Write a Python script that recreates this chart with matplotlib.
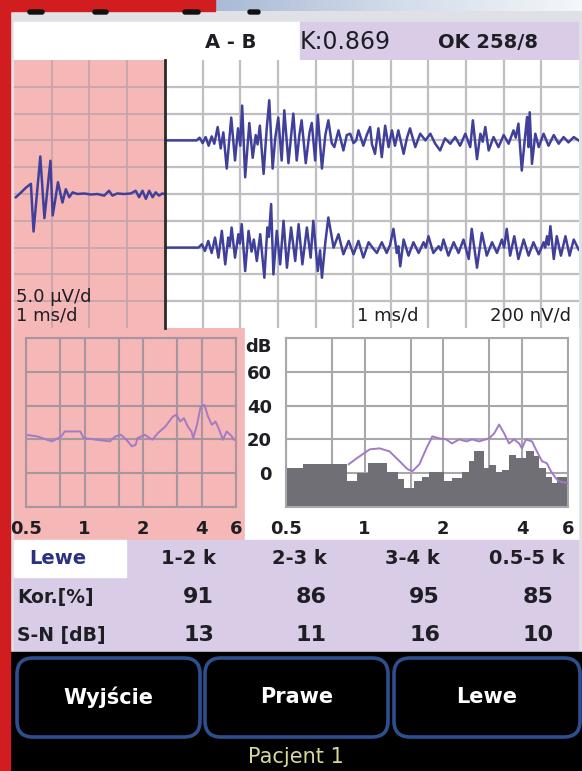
import matplotlib.pyplot as plt
import numpy as np
from matplotlib.patches import Rectangle, FancyBboxPatch
from matplotlib.colors import LinearSegmentedColormap
from matplotlib.ticker import FixedLocator, NullFormatter

W, H = 582, 771

# kolory ekranu
PINK = "#f6b7b7"
LAVENDER = "#d9cce7"
WAVE = "#40409a"
SPEC = "#a27ac6"
NOISE = "#6f6f75"
GRID_W = "#bfbfc3"
GRID_P = "#c6a6ae"
TXT = "#1e1e24"

# naglowek
PAIR = "A - B"
K_VALUE = 0.869
OK_TEXT = "OK 258/8"

# bodziec (czas ms, uV)
STIMULUS = [
    (0.05, -0.6), (0.19, 0.3), (0.32, 1.2), (0.45, 1.9), (0.52, -7.0),
    (0.61, 0.0), (0.70, 7.0), (0.81, -4.5), (0.97, 6.2), (1.03, -4.0),
    (1.10, -1.0), (1.17, 2.2), (1.29, -1.6), (1.38, 0.9), (1.47, -0.6),
    (1.56, 0.3), (1.69, 0.0), (1.87, 0.1), (2.05, -0.1), (2.22, 0.0),
    (2.40, -0.3), (2.53, 0.6), (2.62, -0.3), (2.75, 0.1), (2.93, 0.0),
    (3.11, 0.1), (3.24, 0.6), (3.33, -0.6), (3.42, 0.6), (3.51, -0.9),
    (3.60, 0.6), (3.69, -0.6), (3.77, 0.3), (3.86, -0.3), (3.95, 0.1),
    (4.00, 0.0),
]

# odpowiedz A (czas ms, nV)
TRACE_A = [
    (4.00, 0), (4.84, 0), (4.92, 20), (5.00, -20), (5.08, 25), (5.16, -40),
    (5.24, 30), (5.31, -25), (5.40, 100), (5.48, -60), (5.55, 60), (5.64, -210),
    (5.76, 170), (5.86, -150), (5.94, 90), (6.00, -40), (6.05, 260), (6.13, -275),
    (6.24, 130), (6.33, -130), (6.41, 40), (6.46, -30), (6.52, 110), (6.62, -250),
    (6.70, 80), (6.77, 300), (6.86, -210), (6.93, 20), (7.01, 170), (7.10, -150),
    (7.17, 225), (7.28, -170), (7.36, 60), (7.41, 200), (7.50, -150), (7.57, 40),
    (7.63, 150), (7.74, -170), (7.84, 60), (7.90, 130), (7.99, -150), (8.06, 190),
    (8.17, -210), (8.26, 40), (8.34, 150), (8.43, -20), (8.50, -50), (8.56, 20),
    (8.61, 75), (8.74, -75), (8.83, 40), (8.92, 50), (9.01, -20), (9.08, 0),
    (9.14, 75), (9.27, -40), (9.36, 40), (9.45, 100), (9.50, -30), (9.58, -100),
    (9.67, 90), (9.76, -125), (9.85, 110), (9.94, -50), (10.03, 75), (10.11, -40),
    (10.20, 75), (10.34, -100), (10.43, 20), (10.51, 90), (10.65, -50), (10.78, 50),
    (10.92, 0), (11.05, 50), (11.18, -25), (11.31, -75), (11.44, 15), (11.58, -25),
    (11.71, 25), (11.84, -40), (11.98, 50), (12.11, -50), (12.18, 150), (12.29, -140),
    (12.38, 50), (12.44, -10), (12.51, 100), (12.60, -75), (12.73, 25), (12.86, -50),
    (13.00, 40), (13.13, -25), (13.26, 75), (13.32, 20), (13.39, 125), (13.48, -225),
    (13.55, -20), (13.62, 175), (13.66, -50), (13.69, 210), (13.75, -175), (13.84, 50),
    (13.93, -50), (14.06, 50), (14.19, -40), (14.33, 40), (14.46, -25), (14.59, 25),
    (14.72, -15), (14.86, 25), (14.99, 0),
]

# odpowiedz B (czas ms, nV)
TRACE_B = [
    (4.00, 0), (4.89, 0), (4.98, 25), (5.06, -25), (5.15, 50), (5.24, -40),
    (5.33, 75), (5.42, -75), (5.51, 125), (5.60, -125), (5.68, 75), (5.72, 10),
    (5.77, 150), (5.86, -75), (5.95, 100), (5.99, 30), (6.04, 175), (6.13, -175),
    (6.22, 125), (6.30, -30), (6.36, 60), (6.44, -100), (6.53, 100), (6.64, -225),
    (6.72, 150), (6.76, 80), (6.82, 325), (6.88, -200), (6.97, 125), (7.06, -125),
    (7.15, 200), (7.24, -150), (7.35, 150), (7.46, -100), (7.55, 175), (7.65, -125),
    (7.77, 150), (7.87, -75), (7.94, 200), (8.06, -175), (8.12, -20), (8.17, -225),
    (8.26, 40), (8.34, 225), (8.48, 0), (8.61, 100), (8.74, -50), (8.88, 50),
    (9.01, -50), (9.14, 50), (9.27, -75), (9.41, 40), (9.54, -10), (9.63, -40),
    (9.76, 40), (9.89, -40), (9.98, 20), (10.07, 140), (10.16, -40), (10.20, 10),
    (10.25, -140), (10.34, 60), (10.47, -60), (10.60, 40), (10.74, -40), (10.87, 40),
    (10.93, 0), (11.00, 85), (11.13, -40), (11.27, 10), (11.33, -20), (11.40, 60),
    (11.53, -60), (11.67, 40), (11.80, -40), (11.93, 60), (12.07, -85), (12.15, 140),
    (12.29, -150), (12.42, 110), (12.55, -60), (12.69, 40), (12.82, -40), (12.95, 60),
    (13.01, 0), (13.08, 140), (13.17, -60), (13.28, 85), (13.39, -85), (13.53, 60),
    (13.66, -60), (13.79, 40), (13.93, -50), (14.06, 40), (14.10, 0), (14.15, 85),
    (14.19, 20), (14.24, 160), (14.33, -85), (14.41, 85), (14.52, -60), (14.64, 85),
    (14.75, -60), (14.86, 60), (14.99, -15),
]

# widmo bodzca (kHz, dB)
STIM_F = [0.50, 0.57, 0.68, 0.76, 0.79, 0.95, 0.99, 1.15, 1.35, 1.44, 1.54, 1.64,
          1.75, 1.83, 1.87, 2.04, 2.23, 2.38, 2.60, 2.84, 2.97, 3.10, 3.24, 3.39,
          3.54, 3.62, 3.78, 3.95, 4.13, 4.31, 4.51, 4.71, 4.92, 5.14, 5.37, 5.62, 5.87]
STIM_DB = [22.7, 21.8, 18.8, 21.8, 24.7, 24.7, 20.8, 19.8, 18.8, 21.8, 22.7, 19.8,
           15.9, 16.8, 20.8, 22.7, 19.8, 23.7, 27.6, 33.5, 34.6, 30.6, 32.6, 27.6,
           24.7, 20.8, 28.6, 39.4, 40.4, 33.5, 28.6, 30.6, 25.7, 19.8, 24.7, 22.7, 19.8]

# widmo odpowiedzi (kHz, dB)
RESP_F = [0.869, 0.932, 1.045, 1.141, 1.245, 1.36, 1.458, 1.524, 1.62, 1.723,
          1.816, 1.93, 2.05, 2.16, 2.30, 2.45, 2.58, 2.74, 2.99, 3.13, 3.27, 3.42,
          3.57, 3.73, 3.90, 4.00, 4.14, 4.37, 4.56, 4.77, 4.98, 5.16, 5.39, 5.51, 6.0]
RESP_DB = [5.3, 8.8, 14.1, 14.7, 12.9, 7.1, 2.4, 1.2, 5.3, 14.7, 21.8, 20.6, 20.0,
           17.6, 20.0, 18.8, 20.0, 18.8, 20.6, 23.5, 28.8, 23.5, 17.6, 20.0, 17.6,
           14.7, 20.0, 18.8, 12.9, 7.1, 5.9, 1.2, -2.9, -4.7, -5.9]

# szum (krawedzie pasm kHz, dB)
NOISE_EDGES = [0.5, 0.58, 0.854, 0.932, 1.027, 1.213, 1.336, 1.42, 1.55, 1.66,
               1.77, 2.02, 2.15, 2.36, 2.51, 2.62, 2.87, 2.99, 3.18, 3.36, 3.57,
               3.79, 4.14, 4.44, 4.64, 4.94, 5.21, 5.44, 6.0]
NOISE_DB = [3, 5.5, -4.5, 0, 6, 1, -3.5, -8.5, -4.5, -2, 1, -4.5, -3, 1, 7, 13,
            3, 5, 1, 2, 11, 9, 13, 10, 3, -2, -6, -2]

FREQ_TICKS = [0.5, 1, 2, 4, 6]
FREQ_MINOR = [0.75, 1.5, 3]
DB_LEVELS = [-20, 0, 20, 40, 60, 80]

# tabela
EAR = "Lewe"
BANDS = ["1-2 k", "2-3 k", "3-4 k", "0.5-5 k"]
ROW_NAMES = ["Kor.[%]", "S-N [dB]"]
KOR = [91, 86, 95, 85]
SN = [13, 11, 16, 10]
BUTTONS = ["Wyjście", "Prawe", "Lewe"]
PATIENT = "Pacjent 1"


def px_box(x0, y0, x1, y1):
    return [x0 / W, 1 - y1 / H, (x1 - x0) / W, (y1 - y0) / H]


def pixel_axes(fig, zorder):
    ax = fig.add_axes([0, 0, 1, 1], zorder=zorder)
    ax.set_xlim(0, W)
    ax.set_ylim(H, 0)
    ax.axis("off")
    ax.patch.set_alpha(0)
    return ax


plt.rcParams["font.family"] = ["DejaVu Sans"]
fig = plt.figure(figsize=(W / 100, H / 100), dpi=100, facecolor="#e0e0e7")

# --- tlo ekranu ---
bg = pixel_axes(fig, 0)
sky = LinearSegmentedColormap.from_list("sky", ["#a9bad6", "#d3dcea", "#f4f6fa"])
bg.imshow(np.linspace(0, 1, 64)[None, :], extent=(215, W, 11, 0), cmap=sky, aspect="auto")
bg.add_patch(Rectangle((0, 0), 215, 11, color="#d11d20"))
for x0, w in [(28, 16), (93, 15), (183, 17), (248, 12)]:
    bg.add_patch(FancyBboxPatch((x0, 10), w, 4, boxstyle="round,pad=0,rounding_size=2",
                                color="#111111"))
bg.add_patch(Rectangle((14, 22), 286, 38, color="white"))
bg.add_patch(Rectangle((300, 22), 278, 38, color=LAVENDER))
bg.add_patch(Rectangle((14, 328), 231, 212, color=PINK))
bg.add_patch(Rectangle((245, 328), 333, 212, color="white"))
bg.add_patch(Rectangle((14, 540), 564, 112, color=LAVENDER))
bg.add_patch(Rectangle((14, 540), 112, 37, color="white"))
bg.add_patch(Rectangle((10, 652), W - 10, H - 652, color="black"))

# naglowek
bg.text(231, 42, PAIR, ha="center", va="center", fontsize=14, fontweight="bold", color=TXT)
bg.text(300, 42, f"K:{K_VALUE:.3f}", ha="left", va="center", fontsize=17,
        fontweight="medium", color=TXT)
bg.text(438, 42, OK_TEXT, ha="left", va="center", fontsize=14, fontweight="bold", color=TXT)

# tabela
bg.text(58, 558, EAR, ha="center", va="center", fontsize=14, fontweight="bold", color="#2b3380")
col_right = [216, 327, 440, 565]
val_right = [214, 327, 440, 554]
for xr, band in zip(col_right, BANDS):
    bg.text(xr, 558, band, ha="right", va="center", fontsize=14, fontweight="bold", color=TXT)
for yr, name, vals in zip([597, 635], ROW_NAMES, [KOR, SN]):
    bg.text(17, yr, name, ha="left", va="center", fontsize=13.5, fontweight="bold", color=TXT)
    for xr, v in zip(val_right, vals):
        bg.text(xr, yr, str(v), ha="right", va="center", fontsize=16, fontweight="bold", color=TXT)

# przyciski
for (x0, x1), label in zip([(17, 200), (205, 388), (394, 580)], BUTTONS):
    bg.add_patch(FancyBboxPatch((x0, 658), x1 - x0, 79,
                                boxstyle="round,pad=0,rounding_size=16",
                                fc="black", ec="#2d4f8e", lw=2.6))
    bg.text((x0 + x1) / 2, 697, label, ha="center", va="center", fontsize=15,
            fontweight="bold", color="white")
bg.text(296, 757, PATIENT, ha="center", va="center", fontsize=15, color="#d9d79a")

# --- przebiegi czasowe ---
ax_st = fig.add_axes(px_box(14, 60, 165, 328), zorder=2)
st_t, st_v = np.array(STIMULUS).T
ax_st.plot(st_t, st_v, color=WAVE, lw=1.8)
ax_st.set_xlim(0, 4.02)
ax_st.set_ylim(-25, 25)
ax_st.set_facecolor(PINK)
ax_st.set_xticks([1, 2, 3])
ax_st.set_yticks(np.arange(-20, 21, 5))
ax_st.grid(True, color=GRID_P, lw=1.3)
ax_st.tick_params(length=0, labelbottom=False, labelleft=False)
for s in ax_st.spines.values():
    s.set_visible(False)

ax_re = fig.add_axes(px_box(165, 60, 579, 328), zorder=2)
a_t, a_v = np.array(TRACE_A).T
b_t, b_v = np.array(TRACE_B).T
ax_re.plot(a_t, a_v + 400, color=WAVE, lw=1.8)
ax_re.plot(b_t, b_v - 400, color=WAVE, lw=1.8)
ax_re.set_xlim(4, 15)
ax_re.set_ylim(-1000, 1000)
ax_re.set_xticks(np.arange(5, 15))
ax_re.set_yticks(np.arange(-800, 801, 200))
ax_re.grid(True, color=GRID_W, lw=1.6)
ax_re.tick_params(length=0, labelbottom=False, labelleft=False)
for name, s in ax_re.spines.items():
    s.set_visible(name == "left")
ax_re.spines["left"].set_color("#2a2a2a")
ax_re.spines["left"].set_linewidth(2)


def spectrum_axes(box, face, grid_col, show_db):
    ax = fig.add_axes(px_box(*box), zorder=2)
    ax.set_facecolor(face)
    ax.set_xscale("log")
    ax.set_xlim(0.5, 6)
    ax.set_ylim(-20, 80)
    ax.xaxis.set_major_locator(FixedLocator(FREQ_TICKS))
    ax.xaxis.set_minor_locator(FixedLocator(FREQ_MINOR))
    ax.xaxis.set_minor_formatter(NullFormatter())
    ax.set_xticklabels([f"{f:g}" for f in FREQ_TICKS])
    ax.set_yticks(DB_LEVELS)
    ax.set_yticklabels(["", "0", "20", "40", "60", ""] if show_db else [])
    ax.grid(True, which="both", color=grid_col, lw=1.5)
    ax.tick_params(which="both", length=0, labelsize=13, pad=9)
    for lab in ax.get_xticklabels() + ax.get_yticklabels():
        lab.set_fontweight("bold")
        lab.set_color(TXT)
    for s in ax.spines.values():
        s.set_color(grid_col)
        s.set_linewidth(1.5)
    ax.set_axisbelow(True)
    return ax


ax_sl = spectrum_axes((26, 338, 236, 507), PINK, "#a8969e", False)
ax_sl.plot(STIM_F, STIM_DB, color=SPEC, lw=1.4)

ax_sr = spectrum_axes((286, 338, 568, 507), "white", "#a8a8ac", True)
ax_sr.stairs(NOISE_DB, NOISE_EDGES, baseline=-20, fill=True, color=NOISE, zorder=2)
ax_sr.plot(RESP_F, RESP_DB, color=SPEC, lw=1.4, zorder=3)
ax_sr.tick_params(axis="y", pad=10)

# --- opisy skal ---
ov = pixel_axes(fig, 10)
ov.text(16, 297, "5.0 µV/d", ha="left", va="center", fontsize=13, color=TXT)
ov.text(16, 315, "1 ms/d", ha="left", va="center", fontsize=13, color=TXT)
ov.text(357, 316, "1 ms/d", ha="left", va="center", fontsize=13, color=TXT)
ov.text(571, 316, "200 nV/d", ha="right", va="center", fontsize=13, color=TXT)
ov.text(258, 347, "dB", ha="center", va="center", fontsize=13, fontweight="bold", color=TXT)
ov.add_patch(Rectangle((0, 0), 10, H, color="#d11d20"))

fig.savefig("out.png", dpi=100, facecolor=fig.get_facecolor())
